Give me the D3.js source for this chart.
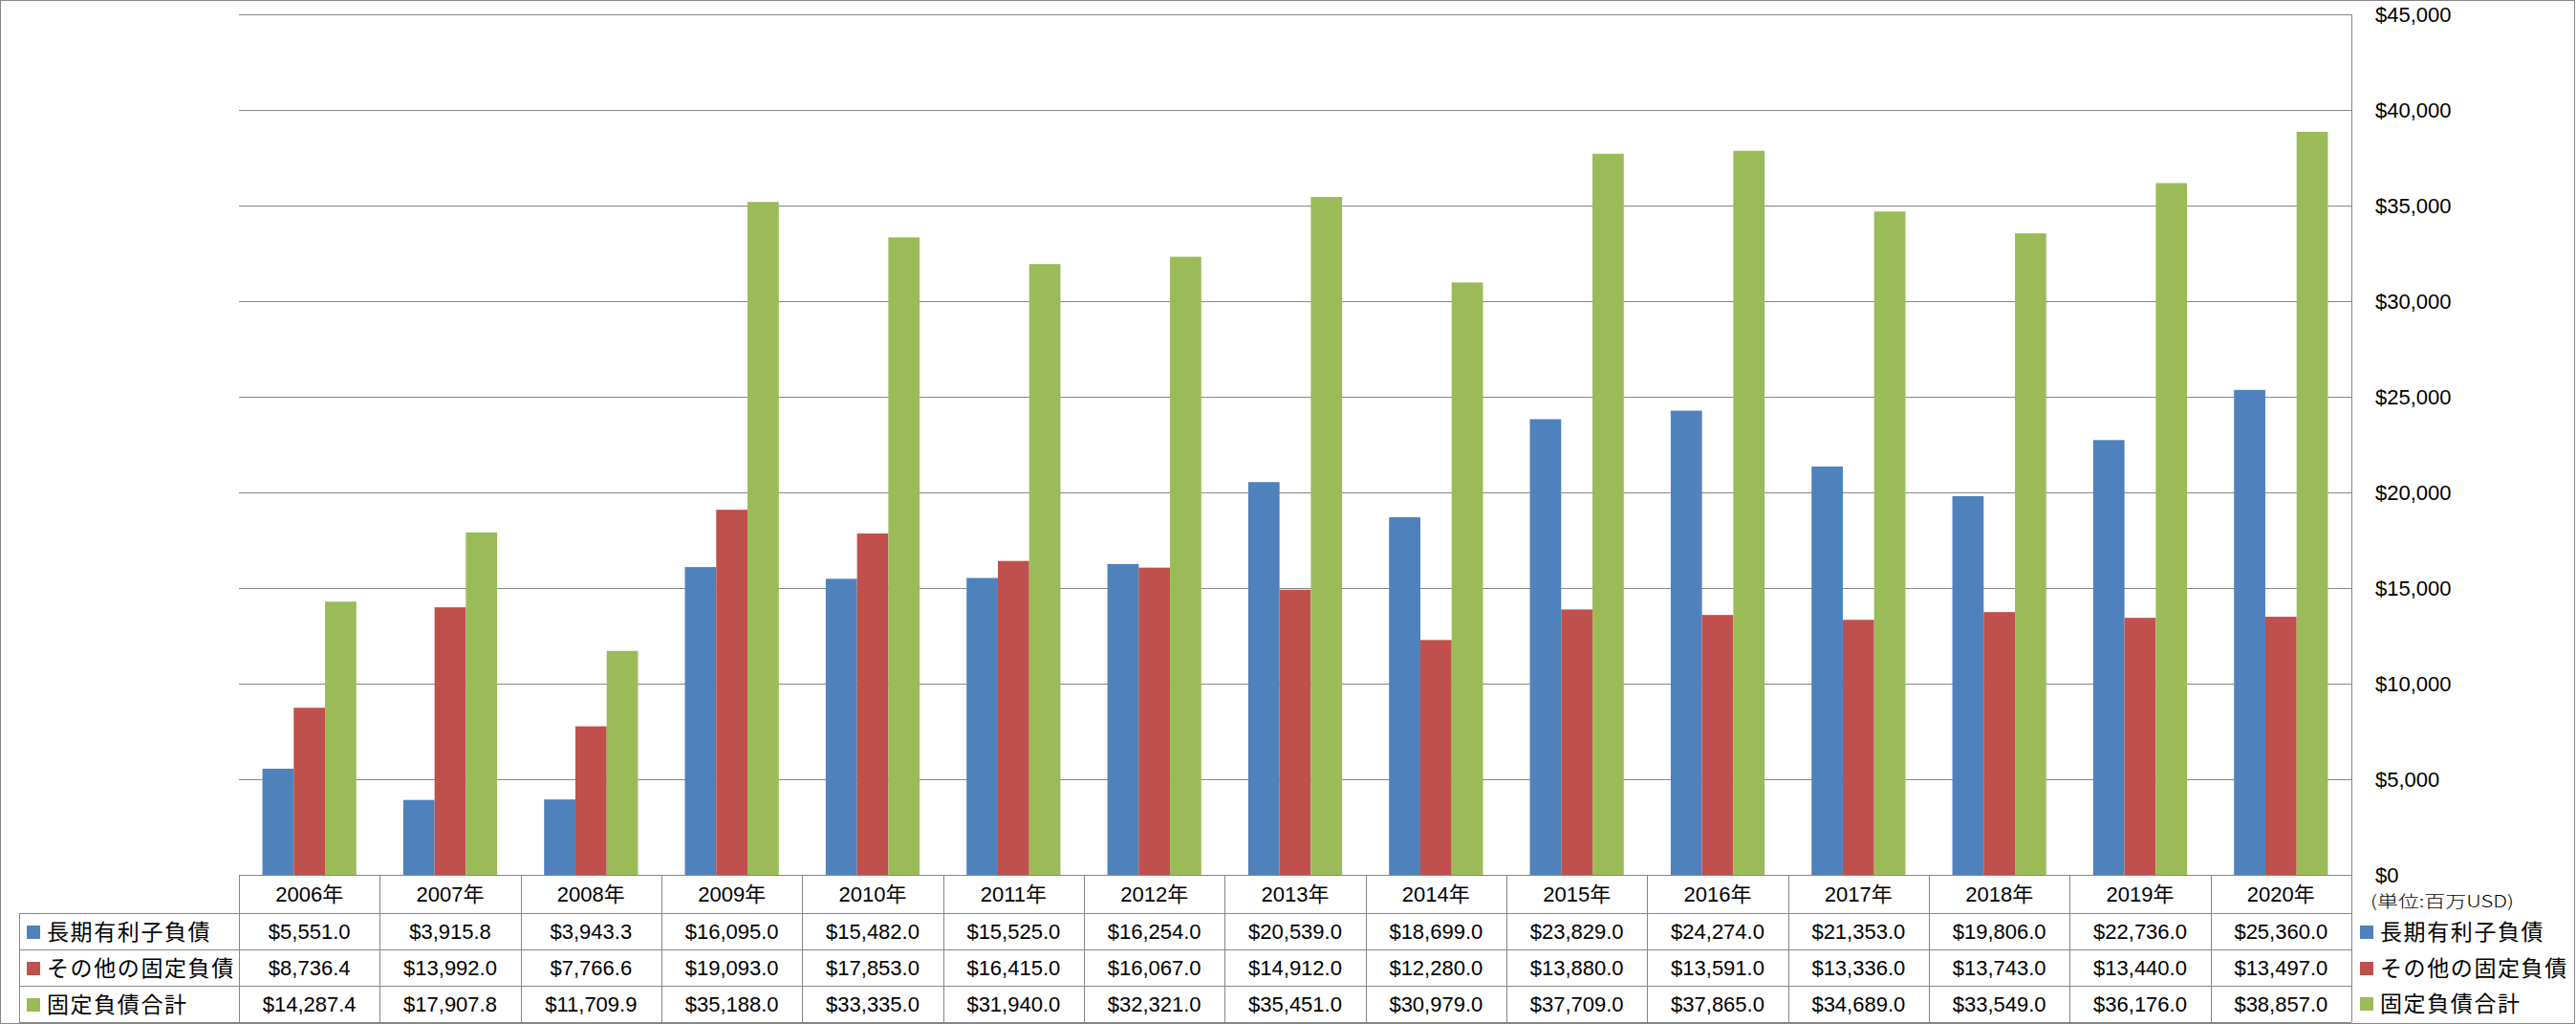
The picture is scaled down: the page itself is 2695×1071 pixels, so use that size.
<!DOCTYPE html>
<html>
<head>
<meta charset="utf-8">
<script src="https://cdn.jsdelivr.net/npm/d3@7"></script>
<style>
html,body{margin:0;padding:0;background:#fff;}
svg{display:block;}
</style>
</head>
<body>
<svg id="chart" width="2695" height="1071"></svg>
<script>
const categories = ["2006年","2007年","2008年","2009年","2010年","2011年","2012年","2013年","2014年","2015年","2016年","2017年","2018年","2019年","2020年"];
const seriesNames = ["長期有利子負債","その他の固定負債","固定負債合計"];
const longTermDebt = [5551.0,3915.8,3943.3,16095.0,15482.0,15525.0,16254.0,20539.0,18699.0,23829.0,24274.0,21353.0,19806.0,22736.0,25360.0];
const otherFixed = [8736.4,13992.0,7766.6,19093.0,17853.0,16415.0,16067.0,14912.0,12280.0,13880.0,13591.0,13336.0,13743.0,13440.0,13497.0];
const fixedTotal = [14287.4,17907.8,11709.9,35188.0,33335.0,31940.0,32321.0,35451.0,30979.0,37709.0,37865.0,34689.0,33549.0,36176.0,38857.0];
const yTicks = [0,5000,10000,15000,20000,25000,30000,35000,40000,45000];
const unitLabel = "(単位:百万USD)";
const colors = ["#4F81BD","#C0504D","#9BBB59"];

const series = [longTermDebt, otherFixed, fixedTotal];
const W = 2695, H = 1071;
const svg = d3.select("#chart");
const gridColor = "#868686";
const numFont = "'Liberation Sans', Arial, 'Noto Sans CJK JP', sans-serif";
const jpFont = "'Noto Sans CJK JP', 'Liberation Sans', sans-serif";

const plotL = 250, plotR = 2460, plotT = 15, plotB = 915;
const x = d3.scaleBand().domain(categories).range([plotL, plotR]).padding(0);
const y = d3.scaleLinear().domain([0, 45000]).range([plotB, plotT]);
const bw = x.bandwidth();
const barW = bw / 4.5;
const xs = d3.scaleBand().domain(d3.range(3)).range([0.75*barW, 3.75*barW]).padding(0);

svg.append("rect").attr("x",0).attr("y",0).attr("width",W).attr("height",H).attr("fill","#fff");

// gridlines
svg.append("g").selectAll("line").data(yTicks).join("line")
  .attr("x1", plotL).attr("x2", plotR)
  .attr("y1", d => Math.round(y(d)) + 0.5).attr("y2", d => Math.round(y(d)) + 0.5)
  .attr("stroke", gridColor).attr("stroke-width", 1);

// right axis line
svg.append("line").attr("x1", plotR+0.5).attr("x2", plotR+0.5).attr("y1", plotT).attr("y2", H-2)
  .attr("stroke", gridColor);

// bars
const gBars = svg.append("g");
series.forEach((vals, si) => {
  gBars.append("g").selectAll("rect").data(vals).join("rect")
    .attr("x", (d,i) => x(categories[i]) + xs(si))
    .attr("width", xs.bandwidth())
    .attr("y", d => y(d))
    .attr("height", d => y(0) - y(d))
    .attr("fill", colors[si]);
});

// y-axis labels on right
const yAxis = d3.axisRight(y).tickValues(yTicks).tickSize(0).tickPadding(25).tickFormat(d3.format("$,.0f"));
const ga = svg.append("g").attr("transform", `translate(${plotR},0)`).call(yAxis);
ga.select(".domain").remove();
ga.selectAll("text").attr("font-family", numFont).attr("font-size", 22).attr("fill", "#000");

svg.append("text").attr("x", 2480).attr("y", 943).attr("dy", "0.35em")
  .attr("font-family", jpFont).attr("font-size", 17).attr("font-weight", 300)
  .attr("textLength", 150).attr("lengthAdjust", "spacingAndGlyphs")
  .attr("fill", "#000").text(unitLabel);

// data table
const rowTops = [915, 955, 993, 1031, 1069];
const tableL = 20;
const gT = svg.append("g");
// horizontal lines
gT.append("line").attr("x1", plotL).attr("x2", plotR).attr("y1", rowTops[0]+0.5).attr("y2", rowTops[0]+0.5).attr("stroke", gridColor);
rowTops.slice(1).forEach(r => {
  gT.append("line").attr("x1", tableL).attr("x2", plotR).attr("y1", r+0.5).attr("y2", r+0.5).attr("stroke", gridColor);
});
// vertical lines
gT.append("line").attr("x1", tableL+0.5).attr("x2", tableL+0.5).attr("y1", rowTops[1]).attr("y2", rowTops[4]).attr("stroke", gridColor);
categories.forEach(c => {
  gT.append("line").attr("x1", Math.round(x(c))+0.5).attr("x2", Math.round(x(c))+0.5)
    .attr("y1", rowTops[0]).attr("y2", rowTops[4]).attr("stroke", gridColor);
});

// header labels
gT.append("g").selectAll("text").data(categories).join("text")
  .attr("x", d => x(d) + bw/2).attr("y", (rowTops[0]+rowTops[1])/2).attr("dy", "0.36em")
  .attr("text-anchor", "middle").attr("font-family", numFont).attr("font-size", 22).attr("fill", "#000")
  .text(d => d);

const fmt = d3.format("$,.1f");
series.forEach((vals, si) => {
  const cy = (rowTops[si+1] + rowTops[si+2]) / 2;
  gT.append("g").selectAll("text").data(vals).join("text")
    .attr("x", (d,i) => x(categories[i]) + bw/2).attr("y", cy).attr("dy", "0.36em")
    .attr("text-anchor", "middle").attr("font-family", numFont).attr("font-size", 22).attr("fill", "#000")
    .text(d => fmt(d));
  // row legend key
  gT.append("rect").attr("x", 28).attr("y", cy - 6).attr("width", 14).attr("height", 14).attr("fill", colors[si]);
  gT.append("text").attr("x", 49).attr("y", cy + 1).attr("dy", "0.36em")
    .attr("font-family", jpFont).attr("font-size", 23).attr("letter-spacing", "1.6px").attr("fill", "#000")
    .text(seriesNames[si]);
  // right legend
  const ly = [975, 1013, 1050][si];
  svg.append("rect").attr("x", 2469).attr("y", ly - 7).attr("width", 14).attr("height", 14).attr("fill", colors[si]);
  svg.append("text").attr("x", 2490).attr("y", ly).attr("dy", "0.36em")
    .attr("font-family", jpFont).attr("font-size", 23).attr("letter-spacing", "1.6px").attr("fill", "#000")
    .text(seriesNames[si]);
});

// outer border
svg.append("rect").attr("x", 0.5).attr("y", 0.5).attr("width", W-2).attr("height", H-1)
  .attr("fill", "none").attr("stroke", gridColor);
</script>
</body>
</html>
